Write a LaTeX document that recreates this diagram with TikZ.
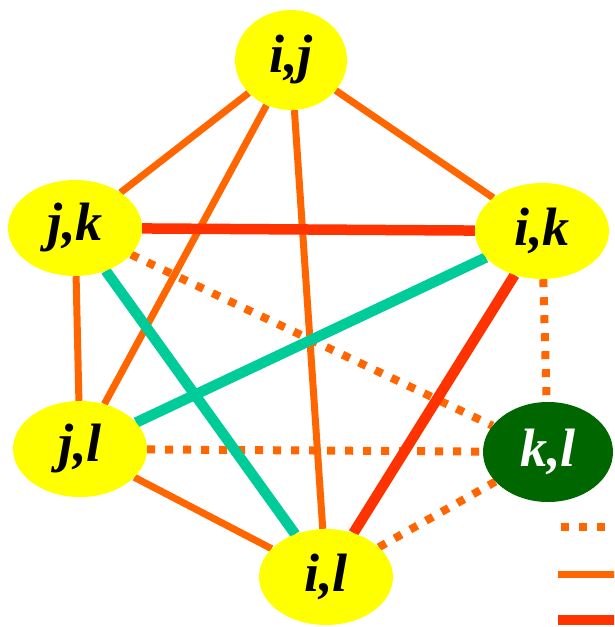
\documentclass[tikz,border=0pt]{standalone}
\usepackage{fontspec}
\setmainfont{Liberation Serif}
\usetikzlibrary{shapes.geometric,backgrounds}
\definecolor{pairyellow}{HTML}{FFFF00}
\definecolor{pairgreen}{HTML}{006600}
\definecolor{linkorange}{HTML}{FF6600}
\definecolor{linkred}{HTML}{FF3300}
\definecolor{linkteal}{HTML}{00CC99}
\tikzset{
  pairnode/.style={
    ellipse, fill=#1, draw=none,
    minimum width=134pt, minimum height=96pt,
    inner sep=0pt,
    font=\fontsize{54}{54}\selectfont\bfseries\itshape
  },
  pairnode/.default=pairyellow,
  plainlink/.style={line width=7pt, color=linkorange},
  dotlink/.style={line width=8pt, color=linkorange,
    dash pattern=on 8pt off 10pt},
  boldlink/.style={line width=10.5pt, color=#1},
  boldlink/.default=linkred,
}
\begin{document}
\begin{tikzpicture}[x=1pt,y=-1pt]
\clip (0,0) rectangle (614,627);

\node[pairnode, minimum width=112pt, minimum height=100pt] (ij) at (291,60) {i,j};
\node[pairnode] (jk) at (75,228) {j,k};
\node[pairnode] (ik) at (542,231) {i,k};
\node[pairnode] (jl) at (80,449) {j,l};
\node[pairnode=pairgreen, text=white, minimum width=130pt, minimum height=100pt] (kl) at (548,452) {k,l};
\node[pairnode] (il) at (326,577) {i,l};

% legend ends
\coordinate (dotA) at (561,527);
\coordinate (dotB) at (630,527);
\coordinate (plainA) at (558,574);
\coordinate (plainB) at (630,574);
\coordinate (boldA) at (558,620);
\coordinate (boldB) at (630,620);

\begin{scope}[on background layer]
% plain links
\draw[plainlink] (ij) -- (jk);
\draw[plainlink] (ij) -- (ik);
\draw[plainlink] (ij) -- (jl);
\draw[plainlink] (ij) -- (il);
\draw[plainlink] (jk) -- (jl);
\draw[plainlink] (jl) -- (il);
% dotted links to k,l
\draw[dotlink] (jk) -- (kl);
\draw[dotlink] (ik) -- (kl);
\draw[dotlink] (jl) -- (kl);
\draw[dotlink] (il) -- (kl);
% bold links
\draw[boldlink=linkteal] (jk) -- (il);
\draw[boldlink=linkteal] (ik) -- (jl);
\draw[boldlink] (jk) -- (ik);
\draw[boldlink] (ik) -- (il);
\end{scope}

% legend
\draw[dotlink] (dotA) -- (dotB);
\draw[plainlink] (plainA) -- (plainB);
\draw[boldlink] (boldA) -- (boldB);

\end{tikzpicture}
\end{document}
